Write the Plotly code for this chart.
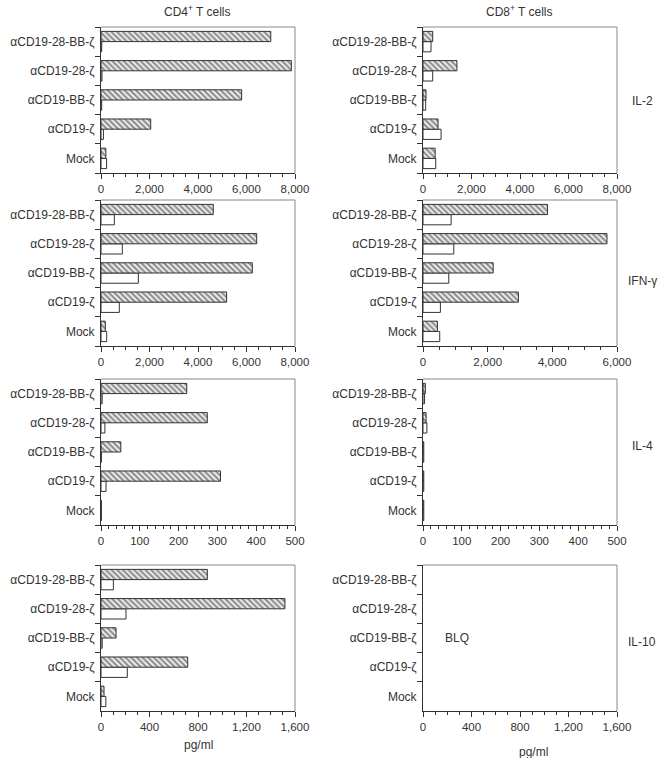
import plotly.graph_objects as go

categories = ["Mock", "αCD19-ζ", "αCD19-BB-ζ", "αCD19-28-ζ", "αCD19-28-BB-ζ"]

# hatched = first series, open = second series (bottom-to-top category order)
il2_cd4_hatched = [200, 2050, 5800, 7850, 7000]
il2_cd4_open = [230, 100, 30, 40, 30]
il2_cd8_hatched = [500, 620, 125, 1400, 400]
il2_cd8_open = [525, 745, 110, 400, 330]
ifn_cd4_hatched = [178, 5180, 6240, 6420, 4630]
ifn_cd4_open = [235, 756, 1540, 880, 550]
ifn_cd8_hatched = [445, 2950, 2170, 5690, 3850]
ifn_cd8_open = [517, 538, 797, 953, 870]
il4_cd4_hatched = [1, 308, 51, 274, 221]
il4_cd4_open = [1, 13, 1, 10, 3]
il4_cd8_hatched = [2, 2, 2, 8, 6]
il4_cd8_open = [2, 2, 2, 10, 4]
il10_cd4_hatched = [25, 715, 124, 1517, 877]
il10_cd4_open = [40, 217, 10, 206, 102]
il10_cd8_hatched = [None, None, None, None, None]
il10_cd8_open = [None, None, None, None, None]

column_titles = ["CD4<sup>+</sup> T cells", "CD8<sup>+</sup> T cells"]
row_labels = ["IL-2", "IFN-γ", "IL-4", "IL-10"]
x_ranges = [[8000, 8000], [8000, 6000], [500, 500], [1600, 1600]]
x_dticks = [[2000, 2000], [2000, 2000], [100, 100], [400, 400]]
x_minor = [[500, 500], [500, 500], [20, 20], [100, 100]]

panels = [
    [(il2_cd4_hatched, il2_cd4_open), (il2_cd8_hatched, il2_cd8_open)],
    [(ifn_cd4_hatched, ifn_cd4_open), (ifn_cd8_hatched, ifn_cd8_open)],
    [(il4_cd4_hatched, il4_cd4_open), (il4_cd8_hatched, il4_cd8_open)],
    [(il10_cd4_hatched, il10_cd4_open), (il10_cd8_hatched, il10_cd8_open)],
]

W, H = 667, 758
col_px = [(101, 295), (423, 617)]
row_px = [(27, 173), (200, 346), (379, 525), (565, 711)]

FONT = "Liberation Sans, Arial, Helvetica, sans-serif"
TXT = "#333333"
LINE = "#333333"

fig = go.Figure()
layout = {}
shapes = []
annotations = []

k = 0
for r in range(4):
    for c in range(2):
        k += 1
        xa = "x" if k == 1 else f"x{k}"
        ya = "y" if k == 1 else f"y{k}"
        hatched, opened = panels[r][c]
        fig.add_trace(go.Bar(
            x=opened, y=categories, orientation="h", xaxis=xa, yaxis=ya,
            marker=dict(color="white", line=dict(color=LINE, width=1)),
            showlegend=False, name="open", hoverinfo="x+y",
        ))
        fig.add_trace(go.Bar(
            x=hatched, y=categories, orientation="h", xaxis=xa, yaxis=ya,
            marker=dict(color="white", line=dict(color=LINE, width=1),
                        pattern=dict(shape="\\", fgcolor="#262626", bgcolor="#eeeeee",
                                     size=4, solidity=0.5)),
            showlegend=False, name="hatched", hoverinfo="x+y",
        ))
        x0, x1 = col_px[c]
        y0, y1 = row_px[r]
        xkey = "xaxis" if k == 1 else f"xaxis{k}"
        ykey = "yaxis" if k == 1 else f"yaxis{k}"
        layout[xkey] = dict(
            domain=[x0 / W, x1 / W], anchor=ya, range=[0, x_ranges[r][c]],
            dtick=x_dticks[r][c], tick0=0, tickformat=",", ticks="outside",
            ticklen=5, tickcolor=LINE, showline=True, linecolor=LINE, linewidth=1,
            showgrid=False, zeroline=False, automargin=False,
            tickfont=dict(family=FONT, size=11.5, color=TXT),
            minor=dict(ticks="outside", ticklen=3, dtick=x_minor[r][c], tickcolor=LINE),
        )
        layout[ykey] = dict(
            domain=[1 - y1 / H, 1 - y0 / H], anchor=xa, type="category",
            categoryorder="array", categoryarray=categories, range=[-0.5, 4.5],
            tickson="boundaries", ticks="outside", ticklen=5, tickcolor=LINE,
            showline=True, linecolor=LINE, linewidth=1, showgrid=False,
            automargin=False, ticklabelstandoff=3,
            tickfont=dict(family=FONT, size=12, color=TXT),
        )
        # top and right frame (grey)
        shapes.append(dict(type="line", xref=f"{xa} domain", yref=f"{ya} domain",
                           x0=0, x1=1, y0=1, y1=1, line=dict(color="#888888", width=1)))
        shapes.append(dict(type="line", xref=f"{xa} domain", yref=f"{ya} domain",
                           x0=1, x1=1, y0=0, y1=1, line=dict(color="#888888", width=1)))

def label(text, xpx, ypx, size=11.5, **kw):
    annotations.append(dict(text=text, xref="paper", yref="paper",
                            x=xpx / W, y=1 - ypx / H, xanchor="center", yanchor="middle",
                            showarrow=False, font=dict(family=FONT, size=size, color=TXT), **kw))

# column titles
label(column_titles[0], 197, 11, size=12)
label(column_titles[1], 519, 11, size=12)
# row labels
row_label_y = [101, 281, 446, 642]
for r in range(4):
    label(row_labels[r], 642, row_label_y[r], size=12)
# x titles
label("pg/ml", 198, 745, size=12)
label("pg/ml", 533, 752, size=12)
# BLQ
annotations.append(dict(text="BLQ", xref="x8", yref="y8", x=280, y="αCD19-BB-ζ",
                        xanchor="center", yanchor="middle",
                        showarrow=False, font=dict(family=FONT, size=12, color=TXT)))

fig.update_layout(
    width=W, height=H, margin=dict(l=0, r=0, t=0, b=0, autoexpand=False),
    paper_bgcolor="white", plot_bgcolor="white",
    barmode="group", bargap=0.3, bargroupgap=0,
    shapes=shapes, annotations=annotations,
    font=dict(family=FONT, size=11, color=TXT),
    **layout,
)

fig.write_html(
    "out.html",
    config={"displayModeBar": False},
    post_script="document.body.style.margin='0px';document.body.style.overflow='hidden';",
)
